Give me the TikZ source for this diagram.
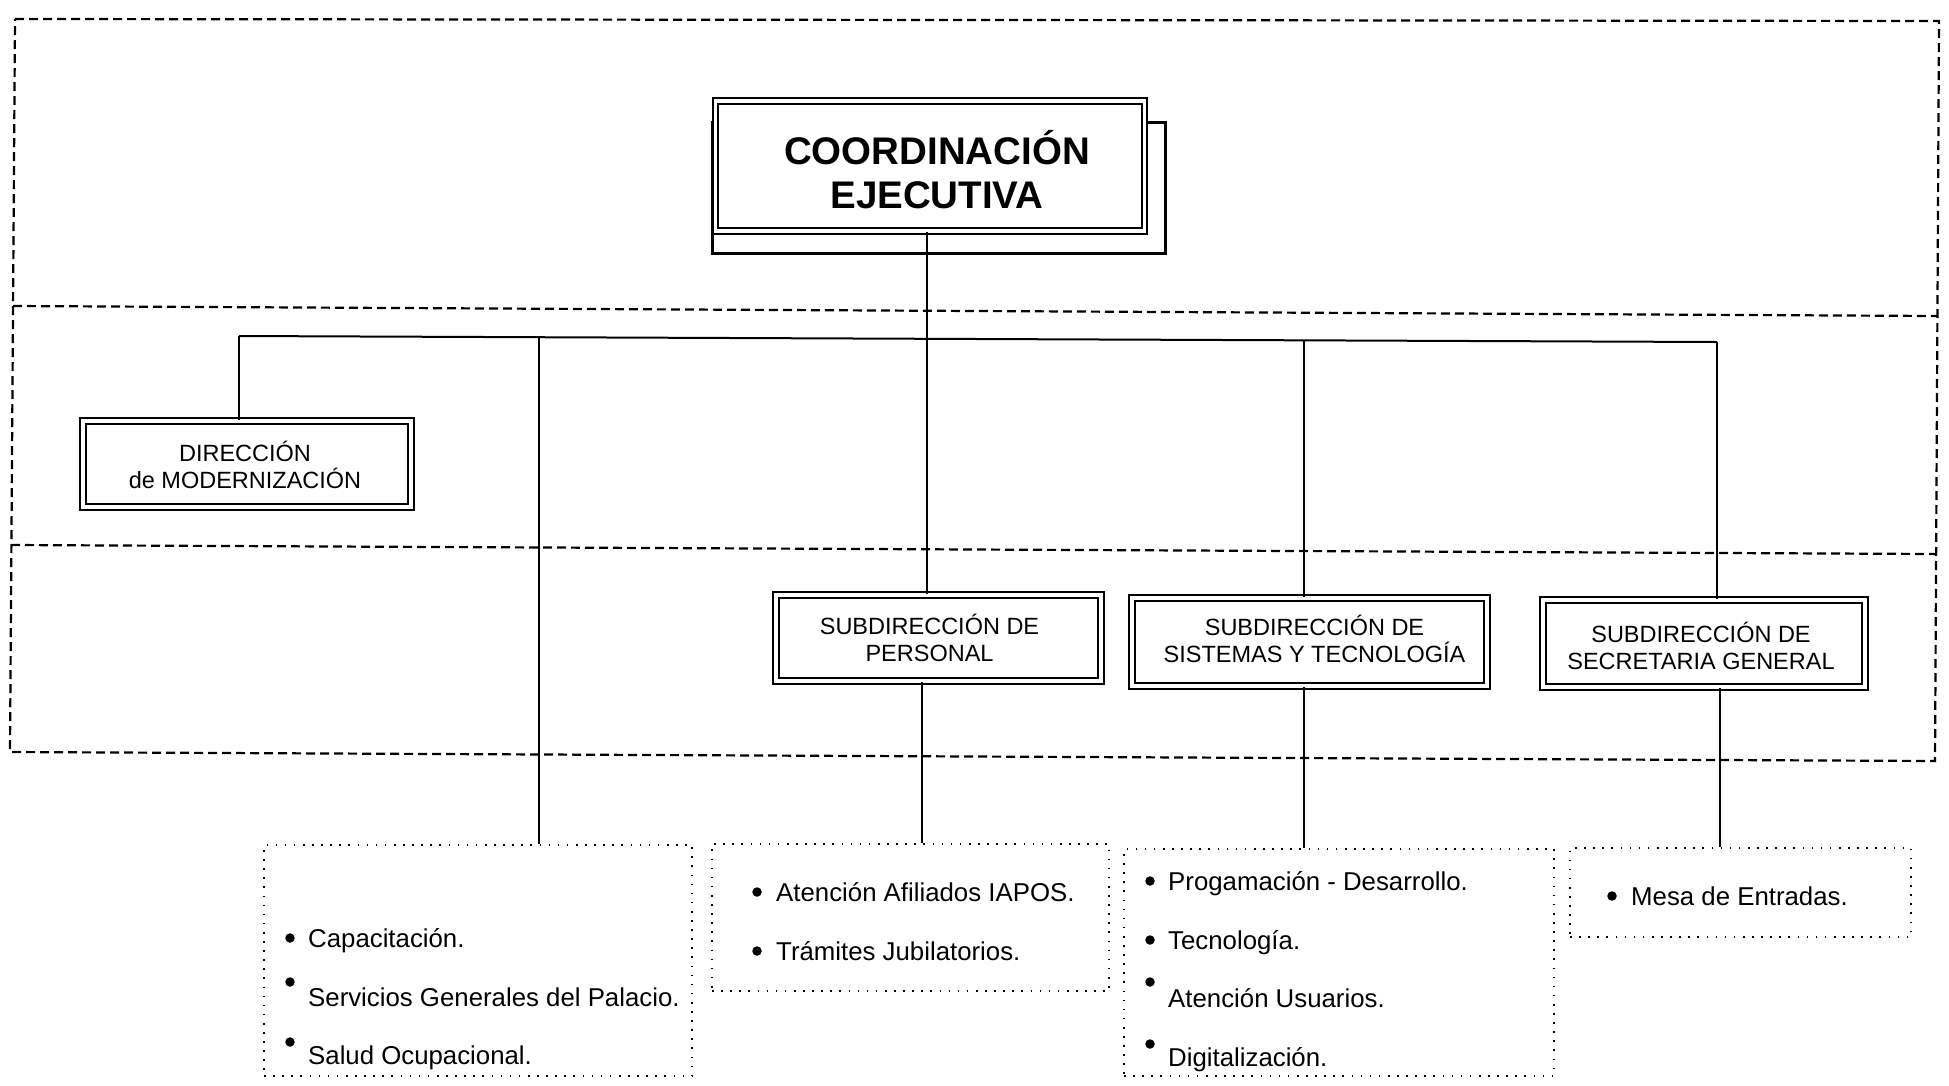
\documentclass[tikz,border=0pt]{standalone}
\usepackage{fontspec}
\setmainfont{Liberation Sans}
\begin{document}
\begin{tikzpicture}[x=1pt,y=-1pt,
  frame/.style={line width=2.2pt, dash pattern=on 9pt off 5pt},
  conn/.style={line width=2pt},
  unitbox/.style={draw, line width=1.8pt, double, double distance=3.5pt, fill=white, inner sep=0pt},
  subfont/.style={align=center, inner sep=0pt, font=\fontsize{23.5}{27}\selectfont},
  listbox/.style={draw, line width=1.6pt, dash pattern=on 1.6pt off 7.5pt, inner sep=0pt},
  item/.style={anchor=base west, inner sep=0pt, font=\fontsize{25.8}{30}\selectfont},
  bul/.style={circle, fill, inner sep=0pt, minimum size=9.5pt},
]
\useasboundingbox (0,0) rectangle (1949,1085);
% dashed frame bands
\draw[frame] (15,19) -- (1939,21) -- (1935,761) -- (10,752) -- cycle;
\draw[frame] (13,306) -- (1938,316);
\draw[frame] (11,545) -- (1937,554);

% junctions
\coordinate (j1) at (239,336);
\coordinate (j2) at (539,337);
\coordinate (j3) at (927,338);
\coordinate (j4) at (1304,340);
\coordinate (j5) at (1717,342);
\coordinate (k2) at (922,700);
\coordinate (k3) at (1304,700);
\coordinate (k4) at (1720,700);

% shadow of top box
\node[draw, line width=3pt, minimum width=453pt, minimum height=131pt, inner sep=0pt] (shadow) at (938.5,187.5) {};
\node[unitbox, minimum width=429pt, minimum height=130pt] (ce) at (930,166) {};
\node[align=center, inner sep=0pt, font=\fontsize{38.5}{44}\selectfont\bfseries] (cet) at ([shift={(7,4)}]ce.center) {COORDINACIÓN\\EJECUTIVA};

\node[unitbox, minimum width=328pt, minimum height=86pt] (dm) at (247,464) {};
\node[subfont] (dmt) at ([shift={(-2,1)}]dm.center) {DIRECCIÓN\\de MODERNIZACIÓN};
\node[unitbox, minimum width=325pt, minimum height=86pt] (sp) at (938.5,638) {};
\node[subfont] (spt) at ([shift={(-9,0)}]sp.center) {SUBDIRECCIÓN DE\\PERSONAL};
\node[unitbox, minimum width=355pt, minimum height=88pt] (sst) at (1309.5,642) {};
\node[subfont] (sstt) at ([shift={(5,-3)}]sst.center) {SUBDIRECCIÓN DE\\SISTEMAS Y TECNOLOGÍA};
\node[unitbox, minimum width=322pt, minimum height=87pt] (ssg) at (1704,643.5) {};
\node[subfont] (ssgt) at ([shift={(-3,2)}]ssg.center) {SUBDIRECCIÓN DE\\SECRETARIA GENERAL};

% list boxes
\node[listbox, minimum width=428pt, minimum height=231pt] (b1) at (478,960.5) {};
\node[listbox, minimum width=397pt, minimum height=147pt] (b2) at (910.5,917.5) {};
\node[listbox, minimum width=430pt, minimum height=227pt] (b3) at (1339,962.5) {};
\node[listbox, minimum width=341pt, minimum height=89pt] (b4) at (1740.5,892.5) {};

% connectors
\draw[conn] (j1) -- (j5);
\draw[conn] (ce.south -| j3) -- (j3) -- (j3 |- sp.north);
\draw[conn] (j1) -- (j1 |- dm.north);
\draw[conn] (j2) -- (j2 |- b1.north);
\draw[conn] (j4) -- (j4 |- sst.north);
\draw[conn] (j5) -- (j5 |- ssg.north);
\draw[conn] (sp.south -| k2) -- (k2 |- b2.north);
\draw[conn] (sst.south -| k3) -- (k3 |- b3.north);
\draw[conn] (ssg.south -| k4) -- (k4 |- b4.north);

% items box 1
\node[bul] (b1d1) at (290,938) {};
\node[item] (b1t1) at (308,947) {Capacitación.};
\node[bul] (b1d2) at (290,982) {};
\node[item] (b1t2) at (308,1006) {Servicios Generales del Palacio.};
\node[bul] (b1d3) at (290,1042) {};
\node[item] (b1t3) at (308,1064) {Salud Ocupacional.};
% items box 2
\node[bul] (b2d1) at (757,892) {};
\node[item] (b2t1) at (776,901) {Atención Afiliados IAPOS.};
\node[bul] (b2d2) at (757,951) {};
\node[item] (b2t2) at (776,960) {Trámites Jubilatorios.};
% items box 3
\node[bul] (b3d1) at (1150,881) {};
\node[item] (b3t1) at (1168,890) {Progamación - Desarrollo.};
\node[bul] (b3d2) at (1150,940) {};
\node[item] (b3t2) at (1168,949) {Tecnología.};
\node[bul] (b3d3) at (1150,982) {};
\node[item] (b3t3) at (1168,1007) {Atención Usuarios.};
\node[bul] (b3d4) at (1150,1044) {};
\node[item] (b3t4) at (1168,1066) {Digitalización.};
% items box 4
\node[bul] (b4d1) at (1612,896) {};
\node[item] (b4t1) at (1631,905) {Mesa de Entradas.};
\end{tikzpicture}
\end{document}
